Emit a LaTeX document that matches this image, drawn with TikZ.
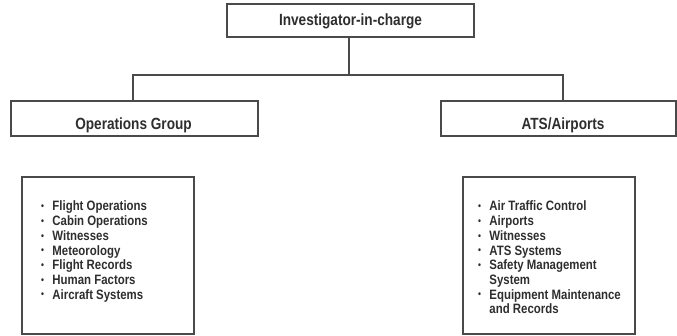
\documentclass[tikz,border=0pt]{standalone}
\usepackage{fontspec}
\setmainfont{Liberation Sans}[FakeStretch=0.84]
\definecolor{ink}{HTML}{2E2E2E}
\definecolor{frame}{HTML}{4A4A4A}
\newcommand{\bul}{{\fontsize{10}{10}\selectfont\raisebox{1.2pt}{•}}}
\tikzset{
  box/.style={draw=frame, line width=1.3pt, rectangle, inner sep=0pt},
  head/.style={font=\bfseries\fontsize{16.2}{18}\selectfont, text=ink, inner sep=0pt},
  listtxt/.style={font=\bfseries\fontsize{13.6}{14.7}\selectfont, text=ink, inner sep=0pt, anchor=base west},
  link/.style={draw=frame, line width=1.1pt}
}
\begin{document}
\begin{tikzpicture}[x=1pt,y=-1pt]
\useasboundingbox (0,0) rectangle (677,336);
% boxes
\node[box, minimum width=247pt, minimum height=33pt] (top) at (350.5,20.5) {};
\node[box, minimum width=247pt, minimum height=35pt] (ops) at (134.5,118.5) {};
\node[box, minimum width=235pt, minimum height=35pt] (ats) at (558.5,118.5) {};
\node[box, minimum width=172pt, minimum height=157pt] (opslist) at (108,255.5) {};
\node[box, minimum width=172pt, minimum height=157pt] (atslist) at (549,255.5) {};
% labels
\node[head] (toplbl) at (350.5,21.5) {Investigator-in-charge};
\node[head] (opslbl) at (133.5,125) {Operations Group};
\node[head] (atslbl) at (563,125) {ATS/Airports};
% connectors
\coordinate (hub) at (349,75);
\coordinate (opsin) at (133,101);
\coordinate (atsin) at (563,101);
\draw[link] (top.south -| hub) -- (hub);
\draw[link] (hub) -| (opsin);
\draw[link] (hub) -| (atsin);
% lists
\node[listtxt] (opsitems) at (41,211) {\begin{tabular}[t]{@{}l@{\hspace{8.3pt}}l@{}}
\bul & Flight Operations\\
\bul & Cabin Operations\\
\bul & Witnesses\\
\bul & Meteorology\\
\bul & Flight Records\\
\bul & Human Factors\\
\bul & Aircraft Systems
\end{tabular}};
\node[listtxt] (atsitems) at (478,211) {\begin{tabular}[t]{@{}l@{\hspace{8.3pt}}l@{}}
\bul & Air Traffic Control\\
\bul & Airports\\
\bul & Witnesses\\
\bul & ATS Systems\\
\bul & Safety Management\\
    & System\\
\bul & Equipment Maintenance\\
    & and Records
\end{tabular}};
\end{tikzpicture}
\end{document}
